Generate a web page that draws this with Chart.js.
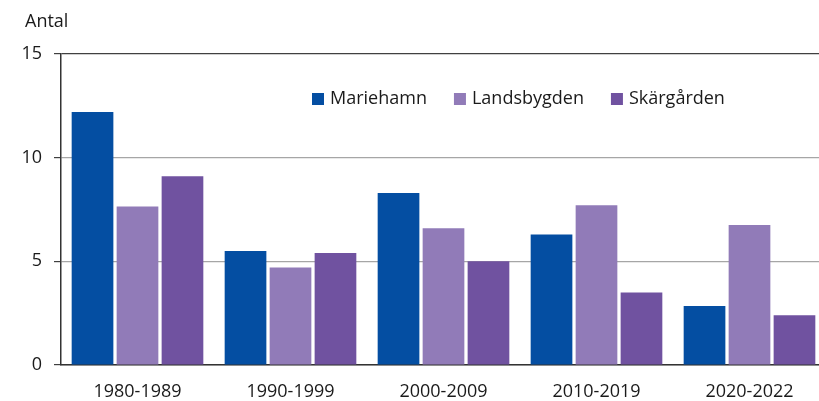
<!DOCTYPE html>
<html>
<head>
<meta charset="utf-8">
<script src="https://cdn.jsdelivr.net/npm/chart.js@4"></script>
<style>
  html, body { margin: 0; padding: 0; background: #fff; overflow: hidden; }
  #wrap { width: 819px; height: 401px; overflow: hidden; }
</style>
</head>
<body>
<div id="wrap"><canvas id="chart" width="826" height="401"></canvas></div>
<script>
/*--------------------DATA--------------------*/
const periods = ['1980-1989', '1990-1999', '2000-2009', '2010-2019', '2020-2022'];
const seriesNames = ['Mariehamn', 'Landsbygden', 'Skärgården'];
const mariehamn = [12.2, 5.5, 8.3, 6.3, 2.85];
const landsbygden = [7.65, 4.7, 6.6, 7.7, 6.75];
const skargarden = [9.1, 5.4, 5.0, 3.5, 2.4];
const yTicks = [0, 5, 10, 15];
const yAxisLabel = 'Antal';

const colors = ['#044ea2', '#917bb8', '#7052a0'];
const FONT = "'Open Sans', sans-serif";

/*--------------------PLUGINS--------------------*/
// legend inside the plot + "Antal" above the y axis
const extras = {
    id: 'extras',
    afterDraw(chart) {
        const ctx = chart.ctx;
        const area = chart.chartArea;
        ctx.save();
        ctx.font = `18px ${FONT}`;
        ctx.fillStyle = '#1a1a1a';
        ctx.textBaseline = 'middle';
        ctx.textAlign = 'left';
        ctx.fillText(yAxisLabel, area.left - 36, 22);

        let x = area.left + 251;
        const y = area.top + 45;
        chart.data.datasets.forEach((ds) => {
            ctx.fillStyle = ds.backgroundColor;
            ctx.fillRect(x, y - 6, 12, 12);
            ctx.fillStyle = '#1a1a1a';
            ctx.fillText(ds.label, x + 18, y);
            x += 18 + ctx.measureText(ds.label).width + 27;
        });
        ctx.restore();
    }
};

/*--------------------CHART--------------------*/
new Chart(document.getElementById('chart'), {
    type: 'bar',
    data: {
        labels: periods,
        datasets: [
            { label: seriesNames[0], data: mariehamn, backgroundColor: colors[0] },
            { label: seriesNames[1], data: landsbygden, backgroundColor: colors[1] },
            { label: seriesNames[2], data: skargarden, backgroundColor: colors[2] }
        ]
    },
    options: {
        responsive: false,
        animation: false,
        events: [],
        layout: { padding: { top: 54, right: 0, left: 0, bottom: 0 } },
        datasets: {
            bar: { categoryPercentage: 0.882, barPercentage: 0.927 }
        },
        plugins: {
            legend: { display: false },
            tooltip: { enabled: false }
        },
        scales: {
            x: {
                grid: { display: false },
                border: { display: true, color: '#333', width: 1.5 },
                ticks: { color: '#1a1a1a', font: { family: FONT, size: 18 }, padding: 8, maxRotation: 0 },
                afterFit: (s) => { s.height = 36; }
            },
            y: {
                min: 0,
                max: 15,
                afterBuildTicks: (s) => { s.ticks = yTicks.map((v) => ({ value: v })); },
                grid: {
                    color: (c) => (c.tick && c.tick.value === 15 ? '#404040' : '#a6a6a6'),
                    tickColor: '#404040',
                    tickLength: 7,
                    lineWidth: 1.2
                },
                border: { display: true, color: '#333', width: 1.5 },
                ticks: { color: '#1a1a1a', font: { family: FONT, size: 18 }, padding: 12 },
                afterFit: (s) => { s.width = 61; }
            }
        }
    },
    plugins: [extras]
});
</script>
</body>
</html>
